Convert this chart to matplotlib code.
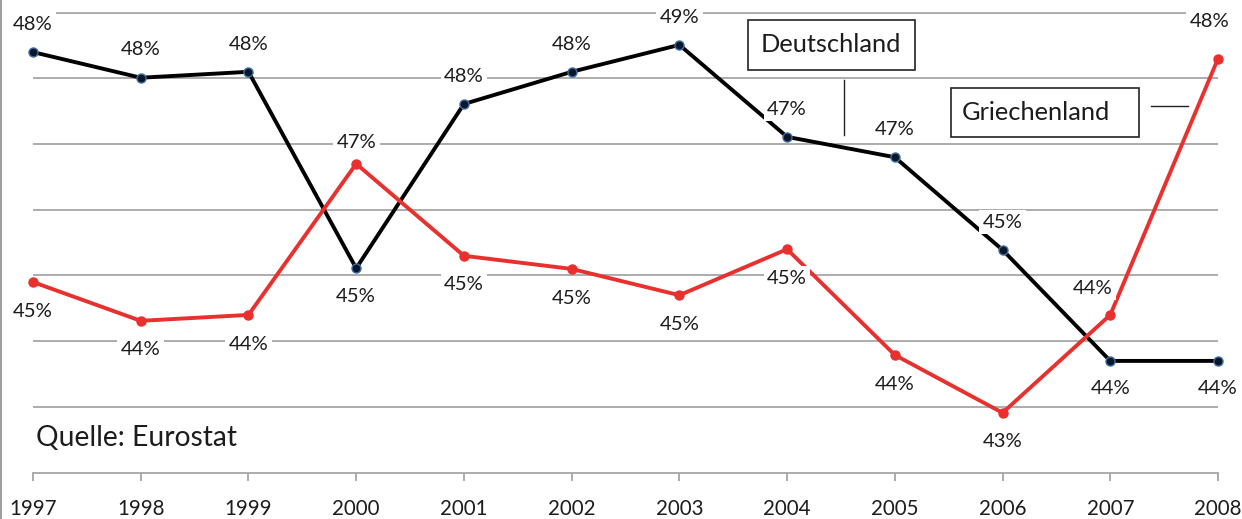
import matplotlib.pyplot as plt
from matplotlib.lines import Line2D
from matplotlib.patches import Rectangle

plt.rcParams['font.family'] = ['Lato', 'DejaVu Sans']

years = [1997, 1998, 1999, 2000, 2001, 2002, 2003, 2004, 2005, 2006, 2007, 2008]
deutschland = [48.40, 48.01, 48.10, 45.11, 47.61, 48.10, 48.51, 47.11, 46.80, 45.39, 43.70, 43.70]
griechenland = [44.90, 44.31, 44.40, 46.70, 45.30, 45.10, 44.70, 45.40, 43.79, 42.91, 44.40, 48.30]

# label placement: +1 above the point, -1 below
de_side = [1, 1, 1, -1, 1, 1, 1, 1, 1, 1, -1, -1]
gr_side = [-1, -1, -1, 1, -1, -1, -1, -1, -1, -1, 1, 1]

BLACK = '#000000'
RED = '#e8312f'
TXT = '#1c1c1c'
GRID = '#a6a6a6'

fig = plt.figure(figsize=(12.42, 5.19), dpi=100)
ax = fig.add_axes([33 / 1242, 46.4 / 519, 1185 / 1242, 472.6 / 519])
ax.set_xlim(1997, 2008)
ax.set_ylim(42, 49.193)

ax.set_yticks(range(43, 50))
ax.yaxis.grid(True, color=GRID, linewidth=1.3)
ax.tick_params(axis='y', left=False, labelleft=False)
ax.set_axisbelow(True)
for s in ['left', 'right', 'top']:
    ax.spines[s].set_visible(False)
ax.spines['bottom'].set_color(GRID)
ax.spines['bottom'].set_linewidth(1.3)
ax.set_xticks(years)
ax.set_xticklabels([str(y) for y in years], fontsize=14.8, color=TXT)
ax.tick_params(axis='x', direction='out', length=6, width=1.3, color=GRID, pad=13)

ax.plot(years, deutschland, color=BLACK, linewidth=2.8, marker='o', markersize=6.5,
        markerfacecolor='#0b1626', markeredgecolor='#3c6ea8', markeredgewidth=1.0,
        zorder=3, clip_on=False)
ax.plot(years, griechenland, color=RED, linewidth=2.8, marker='o', markersize=6.5,
        markerfacecolor=RED, markeredgecolor=RED, zorder=3, clip_on=False)

box = dict(facecolor='white', edgecolor='none', pad=2.5)
for x, v, s in zip(years, deutschland, de_side):
    ax.annotate(f'{round(v)}%', (x, v), xytext=(0, 20 * s), textcoords='offset points',
                ha='center', va='center', fontsize=14.6, color=TXT, bbox=box, zorder=5,
                annotation_clip=False)
gr_dx = [0, 0, 0, 0, 0, 0, 0, 0, 0, 0, -13, -6]
gr_dy = [21, 21, 21, 15, 21, 21, 21, 21, 21, 21, 19, 27]
for x, v, s, dx, dy in zip(years, griechenland, gr_side, gr_dx, gr_dy):
    ax.annotate(f'{round(v)}%', (x, v), xytext=(dx, dy * s), textcoords='offset points',
                ha='center', va='center', fontsize=14.6, color=TXT, bbox=box, zorder=5,
                annotation_clip=False)

# series name boxes with leader lines
ax.add_patch(Rectangle((2003.637, 48.129), 1.55, 0.761, facecolor='white',
                       edgecolor='#222222', linewidth=1.2, zorder=6))
ax.text(2004.41, 48.51, 'Deutschland', ha='center', va='center', fontsize=18.3,
        color=TXT, zorder=7)
ax.add_patch(Rectangle((2005.52, 47.108), 1.745, 0.746, facecolor='white',
                       edgecolor='#222222', linewidth=1.2, zorder=6))
ax.text(2006.31, 47.48, 'Griechenland', ha='center', va='center', fontsize=18.3,
        color=TXT, zorder=7)
ax.plot([2004.528, 2004.528], [47.978, 47.139], color='#222222', linewidth=1, zorder=4)
ax.plot([2007.378, 2007.721], [47.582, 47.582], color='#222222', linewidth=1, zorder=4)

ax.text(1997.03, 42.53, 'Quelle: Eurostat', ha='left', va='center', fontsize=20.3, color=TXT)

fig.add_artist(Line2D([0.0012, 0.0012], [0, 1], color='#8c8c8c', linewidth=1.2))

fig.savefig('out.png', dpi=100)
